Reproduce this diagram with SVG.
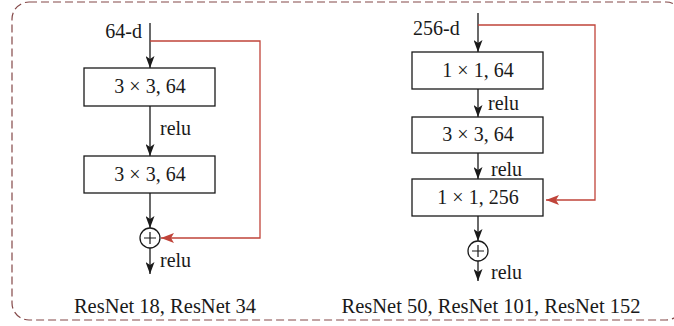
<svg xmlns="http://www.w3.org/2000/svg" width="674" height="326" viewBox="0 0 674 326">
  <defs>
    <marker id="ah" viewBox="0 0 12 9" refX="12" refY="4.5" markerWidth="12" markerHeight="9" markerUnits="userSpaceOnUse" orient="auto">
      <path d="M0,0 L12,4.5 L0,9 L3,4.5 z" fill="#1a1a1a"/>
    </marker>
    <marker id="ahr" viewBox="0 0 13 10" refX="13" refY="5" markerWidth="13" markerHeight="10" markerUnits="userSpaceOnUse" orient="auto">
      <path d="M0,0 L13,5 L0,10 L3,5 z" fill="#c0443a"/>
    </marker>
  </defs>
  <style>
    .box { fill: #ffffff; stroke: #1a1a1a; stroke-width: 1.3; }
    .lbl { font-family: "Liberation Serif", "Times New Roman", serif; font-size: 20px; fill: #1a1a1a; }
    .cap { font-size: 20.5px; }
    .mid { text-anchor: middle; }
    .end { text-anchor: end; }
    .flow { fill: none; stroke: #1a1a1a; stroke-width: 1.3; marker-end: url(#ah); }
    .skip { fill: none; stroke: #c0443a; stroke-width: 1.3; marker-end: url(#ahr); }
    .sum { fill: #ffffff; stroke: #1a1a1a; stroke-width: 1.3; }
    .frame { fill: none; stroke: #844848; stroke-width: 1.2; stroke-dasharray: 8 4; }
  </style>

  <!-- dashed outer frame -->
  <rect class="frame" x="12" y="2" width="671" height="318" rx="17"/>

  <!-- connectors -->
  <g id="connectors">
    <!-- basic block -->
    <line class="flow" x1="150" y1="23" x2="150" y2="68"/>
    <line class="flow" x1="150" y1="106" x2="150" y2="156"/>
    <line class="flow" x1="150" y1="193" x2="150" y2="228"/>
    <line class="flow" x1="150" y1="248" x2="150" y2="274"/>
    <polyline class="skip" points="150,41 260,41 260,238 161,238"/>
    <!-- bottleneck block -->
    <line class="flow" x1="478" y1="13" x2="478" y2="52"/>
    <line class="flow" x1="478" y1="89" x2="478" y2="117"/>
    <line class="flow" x1="478" y1="153" x2="478" y2="179"/>
    <line class="flow" x1="478" y1="216" x2="478" y2="241"/>
    <line class="flow" x1="478" y1="261" x2="478" y2="281"/>
    <polyline class="skip" points="478,25 595,25 595,200 546,200"/>
  </g>

  <!-- basic block (ResNet 18 / 34) -->
  <g id="in64">
    <text class="lbl end" x="142" y="38">64-d</text>
  </g>
  <g id="conv_a1">
    <rect class="box" x="84" y="68" width="131" height="38"/>
    <text class="lbl mid" x="150" y="93">3 × 3, 64</text>
  </g>
  <g id="relu_a1">
    <text class="lbl" x="160" y="135">relu</text>
  </g>
  <g id="conv_a2">
    <rect class="box" x="84" y="156" width="131" height="37"/>
    <text class="lbl mid" x="150" y="181">3 × 3, 64</text>
  </g>
  <g id="add_a">
    <circle class="sum" cx="150" cy="238" r="10"/>
    <path d="M144,238 H156 M150,232 V244" stroke="#1a1a1a" stroke-width="1.2" fill="none"/>
  </g>
  <g id="relu_a2">
    <text class="lbl" x="160" y="267">relu</text>
  </g>
  <g id="cap_a">
    <text class="lbl cap mid" x="165" y="313">ResNet 18, ResNet 34</text>
  </g>

  <!-- bottleneck block (ResNet 50 / 101 / 152) -->
  <g id="in256">
    <text class="lbl" x="413" y="35">256-d</text>
  </g>
  <g id="conv_b1">
    <rect class="box" x="412" y="52" width="131" height="37"/>
    <text class="lbl mid" x="478" y="77">1 × 1, 64</text>
  </g>
  <g id="relu_b1">
    <text class="lbl" x="488" y="110">relu</text>
  </g>
  <g id="conv_b2">
    <rect class="box" x="412" y="117" width="131" height="36"/>
    <text class="lbl mid" x="478" y="141">3 × 3, 64</text>
  </g>
  <g id="relu_b2">
    <text class="lbl" x="491" y="176">relu</text>
  </g>
  <g id="conv_b3">
    <rect class="box" x="412" y="179" width="131" height="37"/>
    <text class="lbl mid" x="478" y="204">1 × 1, 256</text>
  </g>
  <g id="add_b">
    <circle class="sum" cx="478" cy="251" r="10"/>
    <path d="M472,251 H484 M478,245 V257" stroke="#1a1a1a" stroke-width="1.2" fill="none"/>
  </g>
  <g id="relu_b3">
    <text class="lbl" x="491" y="279">relu</text>
  </g>
  <g id="cap_b">
    <text class="lbl cap mid" x="491" y="313">ResNet 50, ResNet 101, ResNet 152</text>
  </g>
</svg>
